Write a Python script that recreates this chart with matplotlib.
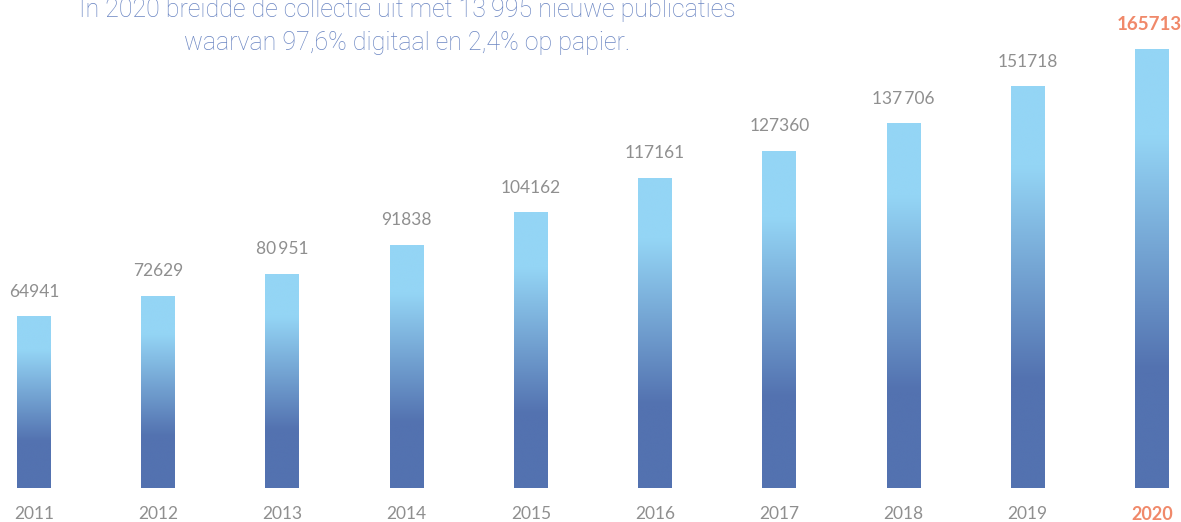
import numpy as np
import matplotlib
matplotlib.use("Agg")
import matplotlib.pyplot as plt
from matplotlib.colors import LinearSegmentedColormap

years = ["2011", "2012", "2013", "2014", "2015", "2016", "2017", "2018", "2019", "2020"]
values = [64941, 72629, 80951, 91838, 104162, 117161, 127360, 137706, 151718, 165713]
value_labels = ["64941", "72629", "80\u2009951", "91838", "104162", "117161", "127360", "137\u2009706", "151718", "165713"]
title_lines = ["In 2020 breidde de collectie uit met 13\u2009995 nieuwe publicaties",
               "waarvan 97,6% digitaal en 2,4% op papier."]

LIGHT = "#94D5F5"
DARK = "#5372B0"
GRAY = "#8f8f8f"
ACCENT = "#F0896A"
TITLE_C = "#6A85C2"

W, H = 1181, 522
fig = plt.figure(figsize=(W / 100, H / 100), dpi=100)
base_px = 488
ax = fig.add_axes([0, (H - base_px) / H, 1, base_px / H])

px_per_unit = (1152 - 34) / 9
bar_w = 34 / px_per_unit
ax.set_xlim(-34 / px_per_unit, 9 + (W - 1152) / px_per_unit)
ymax = max(values) * base_px / 439
ax.set_ylim(0, ymax)

cmap = LinearSegmentedColormap.from_list("g", [(0, DARK), (0.27, DARK), (0.80, LIGHT), (1, LIGHT)])
grad = np.linspace(0, 1, 256).reshape(-1, 1)

x = np.arange(len(years))
bars = ax.bar(x, values, width=bar_w, color="none", edgecolor="none")
for b, v in zip(bars, values):
    x0 = b.get_x()
    im = ax.imshow(grad, cmap=cmap, aspect="auto", origin="lower",
                   extent=[x0, x0 + b.get_width(), 0, v], interpolation="bicubic")
    im.set_clip_path(b)

for i, (v, lab) in enumerate(zip(values, value_labels)):
    last = i == len(values) - 1
    ax.annotate(lab, (x[i], v), xytext=(-2 if last else 0, 14.0), textcoords="offset points",
                ha="center", va="baseline", fontsize=13.5 if last else 12.5,
                family="Lato",
                color=ACCENT if last else GRAY,
                fontweight="bold" if last else "normal")

ax.set_xticks(x)
ax.set_xticklabels(years, family="Lato", fontsize=12.5, color=GRAY)
ax.tick_params(axis="x", length=0, pad=13)
lbls = ax.get_xticklabels()
lbls[-1].set_color(ACCENT)
lbls[-1].set_fontweight("bold")
lbls[-1].set_fontsize(13)
ax.set_yticks([])
for s in ax.spines.values():
    s.set_visible(False)

fig.text(407 / W, 1 - 17 / H, title_lines[0], ha="center", va="baseline",
         fontsize=18, family="Roboto", fontweight="light", color=TITLE_C)
fig.text(407 / W, 1 - 50 / H, title_lines[1], ha="center", va="baseline",
         fontsize=18, family="Roboto", fontweight="light", color=TITLE_C)

fig.savefig("out.png", dpi=100)
